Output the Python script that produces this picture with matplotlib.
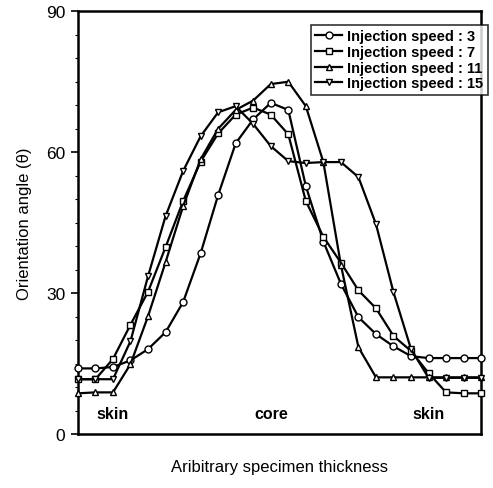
import matplotlib
matplotlib.use("Agg")
import matplotlib.pyplot as plt
from matplotlib.ticker import MultipleLocator

plt.rcParams['font.family'] = ['Liberation Sans', 'DejaVu Sans']

# positions across the specimen thickness (index of measuring point)
positions = list(range(24))

speed_3 = [14, 14, 14.3, 15.7, 18.1, 21.7, 28.1, 38.5, 50.9, 61.9, 67, 70.5,
           69, 52.8, 41, 32, 24.9, 21.3, 18.7, 16.6, 16.2, 16.2, 16.2, 16.2]
speed_7 = [11.7, 11.7, 16, 23.3, 30.3, 39.8, 49.6, 58, 64, 68, 69.5, 68,
           63.8, 49.6, 42, 36.5, 30.6, 26.8, 20.9, 17.7, 13, 8.9, 8.7, 8.7]
speed_11 = [8.7, 8.9, 8.9, 14.9, 25.1, 36.6, 48.5, 58.5, 65, 69, 71, 74.5,
            75, 69.8, 57.9, 36, 18.5, 12.1, 12.1, 12.1, 12.1, 12.1, 12.1, 12.1]
speed_15 = [11.7, 11.7, 11.7, 19.8, 33.6, 46.4, 56, 63.4, 68.5, 69.8, 66, 61.3,
            58.1, 57.7, 57.9, 57.9, 54.7, 44.7, 30.2, 18.1, 12, 12, 12, 12]

labels = ["Injection speed : 3", "Injection speed : 7",
          "Injection speed : 11", "Injection speed : 15"]
markers = ["o", "s", "^", "v"]
series = [speed_3, speed_7, speed_11, speed_15]

y_ticks = [0, 30, 60, 90]
region_labels = ["skin", "core", "skin"]
region_pos = [2.0, 11.0, 20.0]

fig = plt.figure(figsize=(4.93, 4.89), dpi=100)
ax = fig.add_axes([0.158, 0.110, 0.818, 0.865])

for vals, m, lab in zip(series, markers, labels):
    ax.plot(positions, vals, color='black', lw=1.6, marker=m, ms=5,
            mfc='white', mec='black', mew=1.0, label=lab, clip_on=False, zorder=3)

ax.set_xlim(0, 23)
ax.set_ylim(0, 90)
ax.set_yticks(y_ticks)
ax.yaxis.set_minor_locator(MultipleLocator(5))
ax.tick_params(axis='y', which='major', direction='out', length=5, width=1.2,
               labelsize=12.5, pad=4)
ax.tick_params(axis='y', which='minor', direction='out', length=2, width=0.8)
ax.set_xticks([])
for sp in ax.spines.values():
    sp.set_linewidth(1.8)

ax.set_ylabel("Orientation angle (θ)", fontsize=12, labelpad=10)
ax.set_xlabel("Aribitrary specimen thickness", fontsize=12, labelpad=18)

for t, xp in zip(region_labels, region_pos):
    ax.text(xp, 4.5, t, fontsize=11.5, fontweight='bold', ha='center', va='center')

leg = ax.legend(loc='upper right', bbox_to_anchor=(1.035, 0.985),
                frameon=True, fancybox=False, edgecolor='black', handlelength=1.8,
                handletextpad=0.4, borderpad=0.3, labelspacing=0.12,
                prop={'weight': 'bold', 'size': 10.5})
leg.get_frame().set_linewidth(1.2)

fig.savefig("out.png", dpi=100)
